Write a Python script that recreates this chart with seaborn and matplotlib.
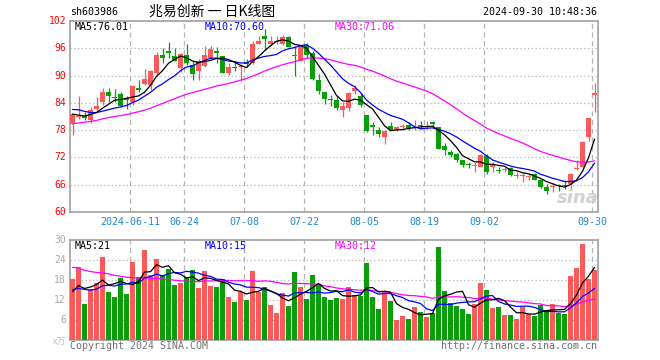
import matplotlib
matplotlib.use("Agg")
import matplotlib.pyplot as plt
import seaborn as sns
import numpy as np
import pandas as pd

# daily candles, 2024-05-27 .. 2024-09-30 (88 trading days)
opens = [79.3, 80.8, 81.2, 80.3, 82.6, 84.2, 86.3, 85.3, 85.9, 85.0,
         84.2, 87.3, 88.1, 87.9, 90.5, 94.5, 95.4, 94.3, 91.6, 94.5,
         92.3, 91.1, 92.2, 93.8, 95.4, 94.3, 90.5, 91.9, 91.9, 93.0,
         92.7, 96.9, 98.7, 97.0, 97.4, 97.0, 98.4, 94.6, 93.3, 96.7,
         94.9, 89.1, 86.4, 84.9, 84.6, 82.5, 82.8, 86.7, 85.5, 81.3,
         79.1, 78.1, 76.5, 78.9, 78.0, 78.8, 79.1, 78.5, 79.2, 78.6,
         79.8, 78.6, 74.5, 73.2, 72.7, 71.4, 70.6, 70.1, 69.9, 72.3,
         69.9, 69.3, 69.2, 69.7, 67.9, 67.9, 67.7, 68.3, 67.0, 65.5,
         65.6, 65.8, 65.8, 66.2, 69.4, 69.9, 76.5, 85.7]
highs = [81.6, 85.5, 81.9, 83.0, 85.2, 87.2, 87.2, 87.0, 86.4, 85.4,
         87.9, 89.0, 91.4, 91.2, 95.1, 96.0, 97.3, 96.0, 94.9, 97.0,
         93.3, 93.6, 96.5, 96.5, 96.2, 94.3, 92.7, 93.1, 92.5, 93.7,
         97.5, 98.6, 100.2, 98.7, 98.7, 98.9, 98.7, 96.6, 96.7, 97.1,
         95.3, 90.4, 86.4, 85.7, 85.7, 84.2, 86.4, 87.9, 86.1, 81.3,
         79.8, 78.7, 78.0, 79.8, 78.9, 79.3, 79.8, 80.3, 80.0, 80.0,
         80.0, 78.7, 75.1, 73.6, 73.0, 71.5, 71.0, 71.0, 72.8, 72.7,
         71.0, 69.8, 69.8, 69.8, 68.8, 68.6, 68.5, 68.6, 67.0, 66.1,
         66.4, 66.2, 67.0, 68.6, 71.5, 75.6, 80.6, 88.4]
lows = [76.9, 80.5, 80.2, 79.5, 82.3, 83.5, 84.2, 84.2, 83.0, 82.6,
        83.5, 86.4, 87.9, 86.8, 90.1, 92.7, 93.8, 93.1, 90.7, 92.3,
        89.0, 89.0, 91.8, 93.6, 92.7, 90.5, 90.1, 90.9, 88.8, 91.9,
        92.5, 96.9, 95.6, 96.8, 96.9, 96.8, 96.2, 90.0, 93.1, 93.8,
        89.0, 86.0, 83.8, 83.3, 82.4, 80.8, 82.1, 85.9, 83.1, 77.6,
        76.9, 76.5, 74.9, 78.0, 77.8, 78.0, 78.1, 78.1, 78.3, 78.3,
        78.9, 73.9, 72.5, 72.1, 71.0, 69.9, 69.7, 68.8, 69.8, 68.3,
        68.8, 68.6, 68.8, 68.0, 67.5, 66.6, 67.0, 67.0, 65.2, 64.0,
        64.4, 64.7, 65.1, 65.1, 69.2, 69.5, 75.6, 82.0]
closes = [81.5, 81.2, 80.7, 82.5, 83.4, 86.3, 85.6, 85.1, 83.3, 84.7,
          87.7, 86.8, 89.2, 91.0, 94.5, 93.9, 95.0, 93.3, 94.7, 92.7,
          90.3, 93.3, 94.5, 95.8, 94.9, 90.6, 91.8, 91.7, 92.2, 92.5,
          97.0, 97.5, 98.0, 97.7, 97.6, 98.4, 96.3, 94.4, 96.4, 94.5,
          89.2, 86.7, 84.8, 84.6, 82.8, 83.3, 86.2, 87.2, 83.5, 77.8,
          78.6, 77.1, 77.8, 78.1, 78.6, 79.0, 78.4, 78.6, 79.0, 79.0,
          79.3, 73.9, 73.7, 72.6, 71.5, 70.3, 70.4, 70.4, 72.5, 68.8,
          70.4, 69.1, 69.5, 68.2, 68.2, 68.2, 67.9, 67.1, 65.6, 64.6,
          65.8, 65.7, 65.7, 68.4, 69.6, 75.3, 80.6, 86.2]
# volume in 万手
volumes = [18.3, 21.9, 10.8, 15.3, 17.0, 24.9, 14.4, 12.9, 18.7, 13.8,
           23.4, 18.9, 27.0, 19.4, 24.3, 19.4, 21.3, 16.5, 17.1, 18.8,
           21.0, 15.7, 20.7, 16.2, 15.9, 18.3, 12.9, 11.4, 14.5, 12.0,
           20.7, 14.5, 15.9, 10.5, 8.1, 14.1, 10.2, 20.4, 15.9, 12.3,
           19.5, 16.8, 12.9, 12.0, 12.6, 12.3, 15.9, 13.5, 13.3, 23.1,
           12.9, 9.3, 14.7, 11.7, 6.0, 7.2, 6.3, 9.9, 8.4, 6.9,
           8.1, 27.9, 14.7, 11.0, 10.2, 9.3, 7.8, 10.8, 17.1, 15.0,
           9.6, 9.9, 7.5, 7.5, 6.3, 9.9, 7.9, 7.2, 10.5, 8.7,
           10.8, 8.1, 7.8, 19.2, 21.6, 28.8, 18.3, 21.0]

# days before the window, backed out from where the MA lines start
pre_close = [76.2, 75.8, 76.5, 77.0, 76.4, 77.2, 77.8, 77.5, 78.1, 77.6,
             78.3, 78.0, 78.6, 78.2, 78.9, 78.4, 78.8, 79.2, 78.7, 79.6,
             81.8, 84.2, 85.0, 83.6, 83.1, 82.4, 81.6, 80.9, 81.3]
pre_vol = [28.5, 31.2, 26.4, 24.8, 29.6, 22.3, 27.1, 25.5, 23.8, 26.9,
           24.2, 21.7, 25.8, 23.4, 27.5, 22.9, 24.6, 21.8, 23.1, 22.9,
           16.8, 14.2, 17.5, 13.9, 15.1, 12.6, 15.3, 13.1, 13.2]

date_labels = ["2024-06-11", "06-24", "07-08", "07-22", "08-05", "08-19", "09-02", "09-30"]
date_pos = [10, 19, 29, 39, 49, 59, 69, 87]
price_ticks = [60, 66, 72, 78, 84, 90, 96, 102]
vol_ticks = [6, 12, 18, 24, 30]

RED = "#fa5a5a"
GREEN = "#0a9e0a"
FRAME = "#a0a0a0"
GRID = "#b4b4b4"
DATE_BLUE = "#1f88d0"
MONO = "DejaVu Sans Mono"

n = len(closes)
x = np.arange(n)
up = np.array(closes) >= np.array(opens)
colors = [RED if u else GREEN for u in up]

all_close = pd.Series(pre_close + closes)
all_vol = pd.Series(pre_vol + volumes)
k = len(pre_close)
df = pd.DataFrame({"x": x})
for w in (5, 10, 30):
    df[f"ma{w}"] = all_close.rolling(w, min_periods=1).mean().values[k:]
    df[f"vma{w}"] = all_vol.rolling(w, min_periods=1).mean().values[k:]

sns.set_style("white")
plt.rcParams["font.family"] = [MONO, "Noto Sans CJK SC"]

W, H = 660, 360
fig = plt.figure(figsize=(6.6, 3.6), dpi=100)
ax1 = fig.add_axes([70 / W, 1 - 212 / H, 528 / W, 191 / H])
ax2 = fig.add_axes([70 / W, 1 - 340 / H, 528 / W, 100 / H])

xlim = (-0.42, 87.58)

# candles
lo = np.minimum(opens, closes)
body = np.maximum(np.abs(np.array(closes) - np.array(opens)), 0.2)
ax1.vlines(x, lows, highs, colors=colors, lw=0.9, zorder=3)
ax1.bar(x, body, bottom=lo, width=0.8, color=colors, linewidth=0, zorder=4)

sns.lineplot(data=df, x="x", y="ma30", ax=ax1, color="#ff00ff", lw=0.9, zorder=5)
sns.lineplot(data=df, x="x", y="ma10", ax=ax1, color="#0000ff", lw=0.9, zorder=5)
sns.lineplot(data=df, x="x", y="ma5", ax=ax1, color="black", lw=0.9, zorder=6)

# volume
ax2.bar(x, volumes, width=0.8, color=colors, linewidth=0, zorder=3)
sns.lineplot(data=df, x="x", y="vma30", ax=ax2, color="#ff00ff", lw=0.9, zorder=5)
sns.lineplot(data=df, x="x", y="vma10", ax=ax2, color="#0000ff", lw=0.9, zorder=5)
sns.lineplot(data=df, x="x", y="vma5", ax=ax2, color="black", lw=0.9, zorder=6)

for ax, ylim, hlines in ((ax1, (60, 102), price_ticks[1:-1]), (ax2, (0, 30), vol_ticks[:-1])):
    ax.set_xlim(*xlim)
    ax.set_ylim(*ylim)
    ax.set_xlabel("")
    ax.set_ylabel("")
    ax.set_xticks([])
    ax.set_yticks([])
    for h in hlines:
        ax.axhline(h, color=GRID, lw=0.9, ls=(0, (1, 2)), zorder=1)
    for p in date_pos:
        ax.axvline(p - 0.35, color=GRID, lw=0.9, ls=(0, (4, 3)), zorder=1)
    for s in ax.spines.values():
        s.set_color(FRAME)
        s.set_linewidth(1.2)
        s.set_visible(True)


def ftext(px, py, s, **kw):
    kw.setdefault("fontsize", 7)
    kw.setdefault("va", "center")
    fig.text(px / W, 1 - py / H, s, **kw)


# price axis labels
for t in price_ticks:
    py = 212 - (t - 60) * 191 / 42
    ftext(66, py, str(t), ha="right", color="red", fontsize=7)
for t in vol_ticks:
    py = 340 - t * 100 / 30
    ftext(66, py, str(t), ha="right", color="#a8a8a8", fontsize=7)
ftext(66, 342, "x万", ha="right", color="#c0c0c0", fontsize=6.5,
      family=["Noto Sans CJK SC", MONO])

# date labels
for lab, p in zip(date_labels, date_pos):
    px = 72.5 + 6 * p - 2
    ftext(px, 222, lab, ha="center", color=DATE_BLUE, fontsize=7.2)

# header
ftext(70, 12, "sh603986", ha="left", color="black", fontsize=7.2)
ftext(212, 12, "兆易创新 一 日K线图", ha="center", color="black", fontsize=10,
      family=["Noto Sans CJK SC", "DejaVu Sans"])
ftext(597, 12, "2024-09-30 10:48:36", ha="right", color="black", fontsize=7.2)

# MA legends
ftext(75, 27, "MA5:76.01", ha="left", color="black", fontsize=7.2)
ftext(205, 27, "MA10:70.60", ha="left", color="#0000ff", fontsize=7.2)
ftext(335, 27, "MA30:71.06", ha="left", color="#ff00ff", fontsize=7.2)
ftext(75, 246, "MA5:21", ha="left", color="black", fontsize=7.2)
ftext(205, 246, "MA10:15", ha="left", color="#0000ff", fontsize=7.2)
ftext(335, 246, "MA30:12", ha="left", color="#ff00ff", fontsize=7.2)

# footer
ftext(70, 346, "Copyright 2024 SINA.COM", ha="left", color="#707070", fontsize=7.2)
ftext(597, 346, "http://finance.sina.com.cn", ha="right", color="#707070", fontsize=7.2)

# watermark
ftext(578, 198, "sina", ha="center", color="#d2d2d2", fontsize=13,
      style="italic", weight="bold", family="DejaVu Sans", zorder=0)

fig.savefig("out.png", dpi=100, facecolor="white")
